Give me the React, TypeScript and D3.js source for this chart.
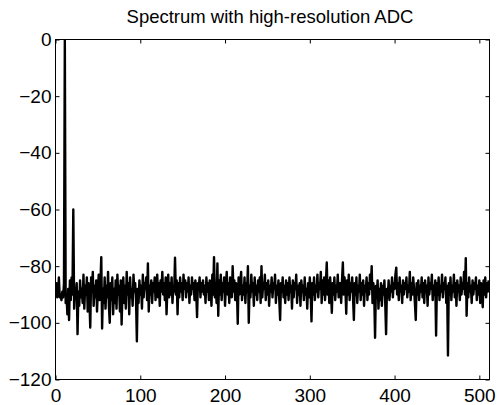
import React, { useEffect, useRef } from "react";
import * as d3 from "d3";

// spectrum magnitude in dB, one value per bin (0..511)
const spectrumDb: number[] = [
  -91, -86, -91, -90, -84, -91, -90, -92, -89, -91, -86, -0.3, -93, -90, -97, -88,
  -99, -85, -92, -84, -90, -60, -95, -88, -90, -86, -104, -89, -94, -85, -91, -88,
  -93, -83, -95, -87, -90, -84, -96, -86, -92, -101.7, -84, -89, -82, -94, -87, -91,
  -85, -96, -88, -83, -92, -86, -76.8, -102, -88, -93, -84, -95, -87, -91, -82, -94,
  -100, -86, -92, -84, -97, -88, -93, -85, -95, -83, -90, -87, -96, -85, -100.6, -89,
  -84, -93, -87, -95, -82, -90, -86, -97, -84, -91, -88, -94, -83, -89, -86, -92,
  -106.5, -88, -93, -85, -90, -87, -95, -83, -91, -86, -88, -84, -92, -79, -96, -87,
  -90, -85, -93, -86, -89, -84, -92, -87, -83, -91, -86, -94, -85, -89, -82, -90,
  -86, -92, -84, -97, -88, -83, -91, -86, -90, -84, -93, -87, -89, -77, -90, -85,
  -97, -86, -91, -84, -89, -86, -92, -83, -88, -85, -91, -86, -89, -84, -93, -87,
  -90, -84, -88, -86, -92, -85, -89, -98, -86, -88, -84, -91, -86, -89, -85, -90,
  -87, -93, -84, -89, -86, -92, -85, -88, -94, -83, -90, -76.8, -91, -86, -93, -79,
  -97.5, -85, -90, -83, -92, -86, -89, -84, -94, -87, -82, -90, -86, -93, -84, -88,
  -91, -80, -89, -85, -92, -86, -88, -100.3, -84, -90, -86, -82, -92, -87, -90, -84,
  -93, -86, -89, -80, -100, -87, -91, -83, -89, -86, -94, -84, -90, -87, -92, -85,
  -89, -84, -93, -80, -91, -86, -88, -83, -92, -86, -90, -85, -94, -87, -89, -84,
  -91, -86, -88, -83, -93, -87, -90, -85, -92, -99, -86, -89, -84, -91, -87, -93,
  -85, -90, -86, -92, -84, -89, -87, -95, -85, -91, -86, -88, -83, -93, -87, -90,
  -86, -94, -85, -89, -87, -92, -84, -90, -88, -95, -86, -91, -84, -89, -99.5, -86,
  -90, -84, -92, -87, -89, -83, -91, -86, -88, -82, -93, -85, -90, -84, -92, -86,
  -78.7, -90, -85, -93, -84, -89, -96.5, -86, -90, -84, -92, -87, -89, -83, -91, -86,
  -86, -93, -85, -78.7, -90, -84, -88, -96.8, -85, -90, -83, -92, -86, -89, -84, -91,
  -99, -86, -90, -84, -93, -87, -89, -83, -92, -86, -90, -85, -94, -87, -89, -84,
  -92, -86, -90, -83, -88, -80, -93, -86, -90, -105.3, -87, -91, -85, -95, -88, -92,
  -86, -94, -87, -90, -85, -93, -104, -88, -91, -85, -92, -87, -89, -84, -91, -86,
  -88, -83, -80.5, -90, -86, -92, -84, -89, -87, -93, -85, -90, -86, -88, -84, -91,
  -87, -89, -82, -92, -86, -90, -84, -88, -93, -99, -86, -90, -85, -92, -87, -89,
  -84, -91, -86, -93, -85, -89, -87, -94, -84, -90, -86, -88, -83, -92, -87, -90,
  -85, -104.5, -86, -90, -84, -92, -87, -89, -83, -91, -86, -88, -84, -93, -87, -111.5,
  -86, -90, -84, -92, -87, -89, -83, -91, -86, -94, -85, -89, -87, -92, -84, -90,
  -86, -88, -82, -90, -77.2, -97.5, -86, -91, -84, -89, -87, -93, -85, -90, -86, -88,
  -84, -92, -87, -90, -85, -93, -86, -89, -94.5, -85, -90, -84, -91, -86, -89, -85,
];

const xTicks = [0, 100, 200, 300, 400, 500];
const yTicks = [-120, -100, -80, -60, -40, -20, 0];
const titleText = "Spectrum with high-resolution ADC";

const App = () => {
  const svgRef = useRef<SVGSVGElement>(null);

  useEffect(() => {
    const svg = d3.select(svgRef.current);
    svg.selectAll("*").remove();

    const width = 497;
    const height = 405;
    const left = 55.5;
    const right = 489.5;
    const top = 39.5;
    const bottom = 379.5;
    const font = "'Liberation Sans', Arial, Helvetica, sans-serif";

    svg.append("rect").attr("width", width).attr("height", height).attr("fill", "#fff");

    const xScale = d3.scaleLinear().domain([0, 512]).range([left, right]);
    const yScale = d3.scaleLinear().domain([-120, 0]).range([bottom, top]);

    // the spectrum trace
    svg.append("clipPath").attr("id", "plotClip")
      .append("rect")
      .attr("x", left).attr("y", top - 1)
      .attr("width", right - left).attr("height", bottom - top + 1);

    const line = d3.line<number>()
      .x((d, i) => xScale(i))
      .y((d) => yScale(d));

    svg.append("path")
      .datum(spectrumDb)
      .attr("clip-path", "url(#plotClip)")
      .attr("fill", "none")
      .attr("stroke", "#000")
      .attr("stroke-width", 2.4)
      .attr("stroke-linejoin", "round")
      .attr("d", line);

    // box with inward ticks on all sides (matlab style)
    const styleAxis = (g: any) => {
      g.select(".domain").remove();
      g.selectAll(".tick line").attr("stroke", "#000");
      g.selectAll(".tick text")
        .attr("fill", "#000")
        .attr("font-family", font)
        .attr("font-size", 19);
    };

    svg.append("g")
      .attr("transform", `translate(0,${bottom})`)
      .call(d3.axisBottom(xScale).tickValues(xTicks).tickSizeInner(-4).tickSizeOuter(0).tickPadding(9))
      .call(styleAxis);

    svg.append("g")
      .attr("transform", `translate(0,${top})`)
      .call(d3.axisTop(xScale).tickValues(xTicks).tickSizeInner(-4).tickSizeOuter(0).tickFormat(() => ""))
      .call(styleAxis);

    svg.append("g")
      .attr("transform", `translate(${left},0)`)
      .call(d3.axisLeft(yScale).tickValues(yTicks).tickSizeInner(-4).tickSizeOuter(0).tickPadding(4).tickFormat(d3.format("d")))
      .call(styleAxis);

    svg.append("g")
      .attr("transform", `translate(${right},0)`)
      .call(d3.axisRight(yScale).tickValues(yTicks).tickSizeInner(-4).tickSizeOuter(0).tickFormat(() => ""))
      .call(styleAxis);

    svg.append("rect")
      .attr("x", left).attr("y", top)
      .attr("width", right - left).attr("height", bottom - top)
      .attr("fill", "none")
      .attr("stroke", "#000")
      .attr("stroke-width", 1);

    svg.append("text")
      .attr("x", 270)
      .attr("y", 23)
      .attr("text-anchor", "middle")
      .attr("font-family", font)
      .attr("font-size", 18.5)
      .attr("fill", "#000")
      .text(titleText);
  }, []);

  return (
    <svg
      ref={svgRef}
      width={497}
      height={405}
      style={{ position: "absolute", left: 0, top: 0, display: "block" }}
    />
  );
};

export default App;
